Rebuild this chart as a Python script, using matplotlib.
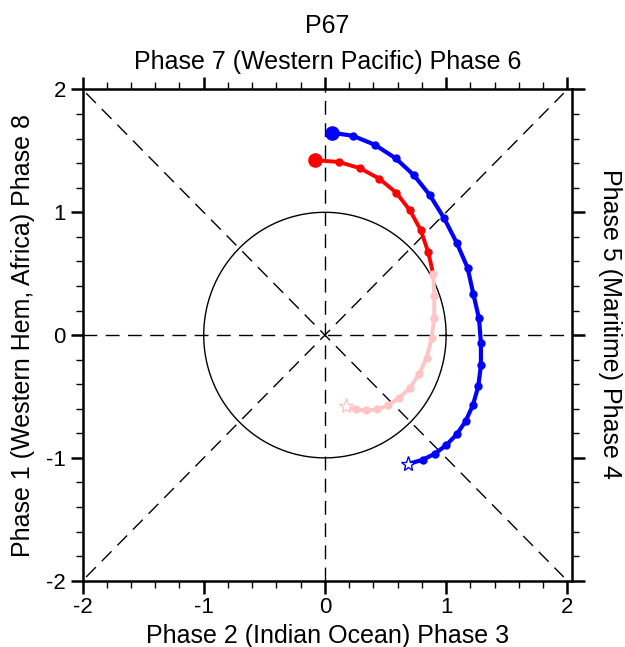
import numpy as np
import matplotlib
matplotlib.use("Agg")
import matplotlib.pyplot as plt
from matplotlib.ticker import MultipleLocator

plt.rcParams['font.family'] = ['Liberation Sans', 'DejaVu Sans']

title = "P67"
top_label = "Phase 7 (Western Pacific) Phase 6"
bottom_label = "Phase 2 (Indian Ocean) Phase 3"
left_label = "Phase 1 (Western Hem, Africa) Phase 8"
right_label = "Phase 5 (Maritime) Phase 4"

blue_rmm1 = [0.055, 0.233, 0.413, 0.583, 0.734, 0.866, 0.984, 1.087, 1.177, 1.224,
             1.271, 1.287, 1.287, 1.265, 1.221, 1.161, 1.087, 0.998, 0.905, 0.806, 0.687]
blue_rmm2 = [1.649, 1.622, 1.549, 1.440, 1.302, 1.139, 0.951, 0.752, 0.548, 0.337,
             0.136, -0.063, -0.247, -0.418, -0.570, -0.701, -0.809, -0.899, -0.967, -1.016, -1.049]

red_rmm1 = [-0.083, 0.113, 0.289, 0.448, 0.588, 0.701, 0.790, 0.852, 0.894, 0.902,
            0.902, 0.880, 0.839, 0.778, 0.701, 0.613, 0.522, 0.432, 0.338, 0.256, 0.173]
red_rmm2 = [1.424, 1.410, 1.359, 1.274, 1.160, 1.016, 0.856, 0.676, 0.495, 0.318,
            0.141, -0.027, -0.185, -0.315, -0.430, -0.511, -0.570, -0.606, -0.614, -0.606, -0.579]
red_split = 8  # red up to this index, pink afterwards

blue_color = "#0000FF"
red_color = "#FF0000"
pink_color = "#FFC4C4"

fig = plt.figure(figsize=(6.25, 6.47), dpi=100)
ax = fig.add_axes([0.132, 0.1025, 0.7835, 0.7592])
ax.set_xlim(-2, 2.04)
ax.set_ylim(-2, 2)

# phase diagram guides
dash = (0, (10, 6))
guides = [((-2, 2), (0, 0)), ((0, 0), (-2, 2)), ((-1.97, 1.97), (-1.97, 1.97)), ((-1.97, 1.97), (1.97, -1.97))]
for gx, gy in guides:
    ax.plot(gx, gy, color='black', lw=1.0, linestyle=dash, zorder=1)
theta = np.linspace(0, 2 * np.pi, 400)
ax.plot(np.cos(theta), np.sin(theta), color='black', lw=1.0, zorder=1)

# blue track
bx, by = np.array(blue_rmm1), np.array(blue_rmm2)
ax.plot(bx, by, color=blue_color, lw=3.0, zorder=3, solid_capstyle='round')
ax.plot(bx[1:-1], by[1:-1], 'o', color=blue_color, ms=5, zorder=4)
ax.plot(bx[0], by[0], 'o', color=blue_color, ms=9.5, zorder=5)
ax.plot(bx[-1], by[-1], '*', mfc='white', mec=blue_color, ms=11, mew=1.0, zorder=5)

# red / pink track
rx, ry = np.array(red_rmm1), np.array(red_rmm2)
ax.plot(rx[:red_split + 1], ry[:red_split + 1], color=red_color, lw=2.8, zorder=3)
ax.plot(rx[1:red_split], ry[1:red_split], 'o', color=red_color, ms=5, zorder=4)
ax.plot(rx[red_split:], ry[red_split:], color=pink_color, lw=2.8, zorder=3)
ax.plot(rx[red_split:-1], ry[red_split:-1], 'o', color=pink_color, ms=5, zorder=4)
ax.plot(rx[0], ry[0], 'o', color=red_color, ms=9.5, zorder=5)
ax.plot(rx[-1], ry[-1], '*', mfc='white', mec=pink_color, ms=11, mew=1.0, zorder=5)

# axes styling
for s in ax.spines.values():
    s.set_linewidth(1.8)
ax.xaxis.set_major_locator(MultipleLocator(1))
ax.yaxis.set_major_locator(MultipleLocator(1))
ax.xaxis.set_minor_locator(MultipleLocator(0.2))
ax.yaxis.set_minor_locator(MultipleLocator(0.2))
ax.tick_params(which='both', direction='out', top=True, right=True,
               labeltop=False, labelright=False, labelsize=16, color='black')
ax.tick_params(which='major', length=9, width=1.8, pad=3)
ax.tick_params(which='minor', length=5, width=1.0)
ax.set_xticks([-2, -1, 0, 1, 2])
ax.set_xticklabels(['-2', '-1', '0', '1', '2'])
ax.set_yticks([-2, -1, 0, 1, 2])
ax.set_yticklabels(['-2', '-1', '0', '1', '2'])

ax.set_xlabel(bottom_label, fontsize=18, labelpad=4)
ax.set_ylabel(left_label, fontsize=18, labelpad=8)
cx = 0.132 + 0.7835 / 2
fig.text(cx, 0.904, top_label, ha='center', va='center', fontsize=18)
fig.text(cx, 0.960, title, ha='center', va='center', fontsize=18)
fig.text(0.976, 0.5, right_label, ha='center', va='center', fontsize=18, rotation=-90)

fig.savefig("out.png", dpi=100)
